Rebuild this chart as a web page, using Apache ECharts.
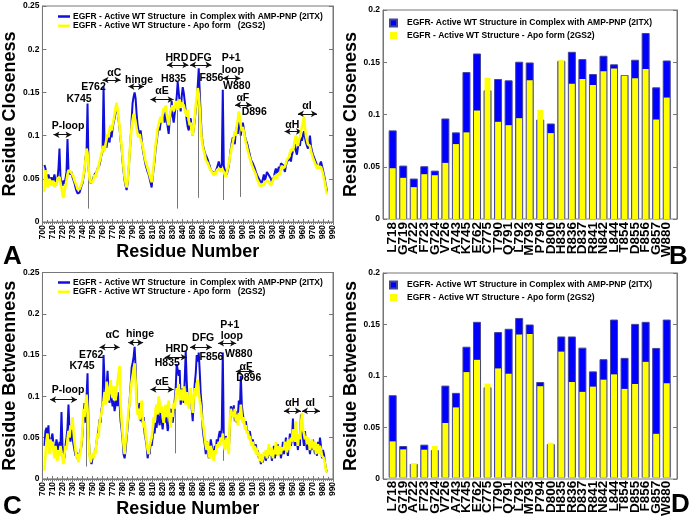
<!DOCTYPE html>
<html><head><meta charset="utf-8">
<script src="https://cdn.jsdelivr.net/npm/echarts@6/dist/echarts.min.js"></script>
<style>html,body{margin:0;padding:0;background:#fff}#c{width:695px;height:519px}</style>
</head><body><div id="c"></div>
<script>
// ---------- DATA ----------
const residueStart = 702; // first residue of line profiles (702..984)

// Panel A: Residue closeness, 2ITX (blue)
const closenessHolo = [
  0.066,0.062,0.052,0.048,0.055,0.050,0.046,0.052,               // 702-709
  0.045,0.050,0.055,0.048,0.044,0.050,0.062,0.085,0.052,0.045,   // 710
  0.042,0.048,0.044,0.050,0.058,0.096,0.060,0.062,0.055,0.058,   // 720
  0.052,0.050,0.045,0.040,0.036,0.033,0.032,0.034,0.038,0.042,   // 730
  0.045,0.052,0.060,0.075,0.080,0.137,0.062,0.050,0.045,0.046,   // 740
  0.048,0.052,0.055,0.054,0.058,0.062,0.060,0.066,0.072,0.078,   // 750
  0.082,0.157,0.088,0.092,0.086,0.095,0.100,0.092,0.104,0.098,   // 760
  0.108,0.115,0.120,0.128,0.132,0.126,0.118,0.108,0.095,0.085,   // 770
  0.070,0.058,0.048,0.042,0.037,0.045,0.060,0.078,0.095,0.118,   // 780
  0.138,0.145,0.150,0.143,0.125,0.112,0.105,0.100,0.106,0.096,   // 790
  0.085,0.078,0.072,0.066,0.062,0.058,0.055,0.050,0.045,0.040,   // 800
  0.052,0.062,0.072,0.085,0.094,0.102,0.110,0.106,0.115,0.120,   // 810
  0.118,0.125,0.115,0.128,0.120,0.110,0.102,0.118,0.125,0.140,   // 820
  0.122,0.115,0.125,0.135,0.145,0.162,0.150,0.138,0.128,0.145,   // 830
  0.156,0.150,0.140,0.128,0.118,0.110,0.106,0.115,0.120,0.108,   // 840
  0.100,0.108,0.118,0.130,0.140,0.158,0.178,0.150,0.122,0.100,   // 850
  0.090,0.085,0.080,0.078,0.075,0.072,0.068,0.065,0.060,0.062,   // 860
  0.058,0.060,0.056,0.055,0.062,0.066,0.070,0.065,0.062,0.066,   // 870
  0.153,0.065,0.060,0.058,0.055,0.060,0.065,0.075,0.085,0.092,   // 880
  0.098,0.100,0.090,0.105,0.110,0.102,0.120,0.115,0.100,0.110,   // 890
  0.115,0.108,0.100,0.095,0.092,0.088,0.082,0.078,0.072,0.070,   // 900
  0.068,0.065,0.062,0.058,0.055,0.052,0.050,0.048,0.046,0.045,   // 910
  0.050,0.055,0.048,0.052,0.058,0.060,0.054,0.056,0.050,0.046,   // 920
  0.048,0.052,0.058,0.062,0.056,0.060,0.064,0.058,0.068,0.070,   // 930
  0.066,0.062,0.058,0.065,0.070,0.068,0.072,0.075,0.070,0.078,   // 940
  0.080,0.085,0.090,0.082,0.078,0.086,0.092,0.088,0.098,0.094,   // 950
  0.100,0.105,0.098,0.092,0.088,0.085,0.090,0.100,0.088,0.082,   // 960
  0.078,0.075,0.072,0.070,0.066,0.068,0.064,0.066,0.070,0.065,   // 970
  0.060,0.055,0.048,0.042,0.035                                   // 980-984
];
// Panel A: Residue closeness, 2GS2 (yellow)
const closenessApo = [
  0.035,0.060,0.052,0.040,0.045,0.050,0.046,0.042,
  0.048,0.044,0.040,0.046,0.042,0.050,0.048,0.052,0.045,0.040,
  0.032,0.028,0.035,0.042,0.048,0.055,0.060,0.062,0.058,0.060,
  0.055,0.052,0.048,0.045,0.042,0.038,0.036,0.038,0.040,0.044,
  0.048,0.055,0.062,0.072,0.085,0.080,0.065,0.050,0.046,0.044,
  0.046,0.050,0.055,0.052,0.058,0.060,0.064,0.070,0.074,0.080,
  0.085,0.088,0.082,0.090,0.096,0.102,0.098,0.108,0.112,0.106,
  0.112,0.118,0.125,0.132,0.138,0.130,0.120,0.110,0.098,0.088,
  0.075,0.062,0.052,0.045,0.040,0.048,0.062,0.080,0.095,0.110,
  0.118,0.125,0.122,0.115,0.108,0.102,0.098,0.102,0.096,0.092,
  0.088,0.082,0.075,0.070,0.066,0.062,0.058,0.054,0.050,0.046,
  0.055,0.066,0.078,0.090,0.098,0.108,0.112,0.118,0.122,0.115,
  0.125,0.132,0.128,0.135,0.125,0.118,0.112,0.122,0.130,0.128,
  0.135,0.128,0.132,0.140,0.138,0.130,0.135,0.142,0.132,0.138,
  0.140,0.135,0.130,0.126,0.122,0.130,0.118,0.112,0.115,0.105,
  0.100,0.110,0.122,0.135,0.145,0.155,0.148,0.130,0.110,0.095,
  0.088,0.082,0.078,0.072,0.070,0.068,0.065,0.062,0.060,0.058,
  0.056,0.054,0.058,0.055,0.060,0.058,0.062,0.060,0.058,0.062,
  0.060,0.058,0.055,0.052,0.058,0.062,0.068,0.075,0.080,0.088,
  0.092,0.098,0.105,0.100,0.112,0.118,0.128,0.120,0.112,0.105,
  0.110,0.105,0.098,0.092,0.088,0.082,0.078,0.074,0.070,0.066,
  0.064,0.060,0.058,0.055,0.050,0.048,0.045,0.042,0.040,0.042,
  0.045,0.042,0.046,0.044,0.048,0.050,0.046,0.044,0.042,0.045,
  0.048,0.050,0.054,0.052,0.050,0.056,0.058,0.055,0.062,0.065,
  0.062,0.060,0.064,0.068,0.072,0.070,0.075,0.080,0.078,0.085,
  0.082,0.088,0.095,0.100,0.092,0.088,0.095,0.098,0.105,0.110,
  0.115,0.122,0.110,0.100,0.095,0.090,0.092,0.088,0.082,0.078,
  0.074,0.072,0.068,0.065,0.062,0.066,0.062,0.060,0.064,0.060,
  0.056,0.050,0.045,0.038,0.032
];
// Panel C: Residue betweenness, 2ITX (blue)
const betweennessHolo = [
  0.040,0.058,0.062,0.052,0.065,0.035,0.042,0.050,
  0.055,0.042,0.030,0.038,0.048,0.040,0.030,0.045,0.038,0.081,
  0.040,0.030,0.025,0.040,0.050,0.062,0.090,0.058,0.045,0.062,
  0.050,0.042,0.035,0.028,0.032,0.025,0.022,0.030,0.035,0.040,
  0.055,0.075,0.092,0.068,0.098,0.128,0.060,0.030,0.022,0.018,
  0.025,0.030,0.028,0.035,0.045,0.052,0.060,0.072,0.068,0.085,
  0.090,0.150,0.118,0.100,0.112,0.131,0.105,0.092,0.110,0.098,
  0.088,0.095,0.082,0.090,0.100,0.088,0.105,0.092,0.070,0.060,
  0.048,0.030,0.025,0.035,0.050,0.062,0.078,0.095,0.112,0.135,
  0.140,0.148,0.160,0.135,0.098,0.085,0.078,0.092,0.070,0.085,
  0.068,0.075,0.055,0.048,0.040,0.025,0.035,0.030,0.045,0.040,
  0.050,0.062,0.055,0.070,0.062,0.080,0.072,0.065,0.085,0.070,
  0.060,0.075,0.068,0.080,0.072,0.058,0.065,0.078,0.085,0.072,
  0.068,0.080,0.095,0.110,0.139,0.138,0.125,0.132,0.090,0.100,
  0.110,0.092,0.120,0.155,0.118,0.095,0.100,0.090,0.105,0.085,
  0.070,0.095,0.115,0.128,0.150,0.142,0.153,0.130,0.102,0.088,
  0.060,0.050,0.042,0.030,0.045,0.038,0.025,0.035,0.048,0.040,
  0.032,0.028,0.040,0.035,0.048,0.042,0.052,0.058,0.050,0.062,
  0.153,0.048,0.040,0.052,0.045,0.040,0.035,0.060,0.088,0.085,
  0.078,0.089,0.070,0.082,0.068,0.075,0.095,0.080,0.125,0.090,
  0.078,0.072,0.065,0.070,0.060,0.062,0.055,0.058,0.050,0.045,
  0.048,0.040,0.035,0.042,0.030,0.035,0.025,0.028,0.018,0.025,
  0.020,0.028,0.032,0.022,0.030,0.025,0.038,0.028,0.035,0.022,
  0.030,0.040,0.025,0.035,0.028,0.042,0.030,0.038,0.025,0.032,
  0.045,0.030,0.038,0.050,0.035,0.028,0.042,0.055,0.040,0.048,
  0.073,0.050,0.040,0.062,0.045,0.035,0.050,0.040,0.078,0.062,
  0.050,0.040,0.058,0.045,0.035,0.048,0.040,0.030,0.042,0.035,
  0.048,0.038,0.030,0.040,0.028,0.045,0.035,0.050,0.040,0.025,
  0.035,0.030,0.020,0.012,0.008
];
// Panel C: Residue betweenness, 2GS2 (yellow)
const betweennessApo = [
  0.010,0.030,0.045,0.055,0.040,0.030,0.048,0.038,
  0.045,0.035,0.025,0.040,0.030,0.022,0.035,0.028,0.040,0.032,
  0.025,0.018,0.030,0.040,0.035,0.048,0.058,0.050,0.065,0.060,
  0.075,0.058,0.045,0.035,0.025,0.030,0.020,0.028,0.032,0.045,
  0.060,0.085,0.075,0.090,0.102,0.085,0.050,0.028,0.020,0.025,
  0.030,0.025,0.035,0.030,0.045,0.055,0.050,0.068,0.075,0.080,
  0.088,0.095,0.105,0.090,0.118,0.102,0.095,0.110,0.120,0.105,
  0.098,0.112,0.100,0.095,0.110,0.118,0.128,0.137,0.090,0.070,
  0.055,0.040,0.030,0.045,0.055,0.070,0.085,0.092,0.105,0.118,
  0.125,0.132,0.140,0.118,0.090,0.078,0.085,0.072,0.080,0.095,
  0.075,0.062,0.070,0.052,0.045,0.035,0.030,0.040,0.038,0.050,
  0.060,0.075,0.068,0.085,0.090,0.078,0.100,0.092,0.080,0.088,
  0.075,0.068,0.082,0.090,0.075,0.085,0.095,0.070,0.062,0.080,
  0.075,0.092,0.085,0.098,0.110,0.102,0.115,0.095,0.108,0.100,
  0.095,0.112,0.100,0.090,0.105,0.098,0.085,0.100,0.110,0.092,
  0.080,0.098,0.110,0.100,0.115,0.120,0.105,0.095,0.088,0.075,
  0.070,0.060,0.050,0.040,0.035,0.045,0.030,0.025,0.040,0.035,
  0.028,0.022,0.035,0.030,0.042,0.038,0.045,0.040,0.050,0.045,
  0.055,0.042,0.035,0.045,0.050,0.038,0.030,0.070,0.085,0.080,
  0.082,0.075,0.085,0.070,0.078,0.065,0.080,0.072,0.090,0.075,
  0.068,0.075,0.060,0.065,0.055,0.058,0.048,0.052,0.045,0.040,
  0.045,0.035,0.040,0.030,0.038,0.028,0.032,0.022,0.030,0.020,
  0.025,0.032,0.028,0.035,0.025,0.030,0.042,0.032,0.028,0.038,
  0.025,0.035,0.030,0.045,0.032,0.028,0.040,0.035,0.030,0.038,
  0.040,0.035,0.045,0.038,0.032,0.048,0.035,0.042,0.050,0.045,
  0.060,0.055,0.045,0.070,0.050,0.040,0.055,0.048,0.065,0.080,
  0.060,0.055,0.048,0.052,0.042,0.050,0.045,0.035,0.040,0.048,
  0.040,0.035,0.045,0.030,0.038,0.042,0.030,0.040,0.035,0.028,
  0.030,0.025,0.018,0.010,0.008
];
// thin vertical drop lines [residue, bottom value]
const closenessDrops = [[746,0.0155],[835,0.0155],[856,0.028],[880,0.0255],[897,0.029]];
const betweennessDrops = [[744,0.015],[833,0.031],[880,0.022]];

// annotations [label, residue, value]
const closenessLabels = [
  ['P-loop',725.6,0.1105],['K745',736.5,0.1417],['E762',751,0.156],['\u03b1C',771.7,0.1725],
  ['hinge',796.4,0.1644],['\u03b1E',819.4,0.1513],['HRD',834.2,0.19],['H835',830.9,0.1656],
  ['DFG',857.8,0.19],['F856',868.7,0.1667],['P+1',888.4,0.19],['loop',890,0.1756],
  ['W880',894,0.157],['\u03b1F',900,0.143],['D896',911.4,0.127],['\u03b1H',949.3,0.1125],['\u03b1I',964,0.1336]
];
// arrows [from residue, to residue, value]
const closenessArrows = [
  [711,729,0.101],[760,778,0.1644],[785.8,801.3,0.1567],[807.8,830.9,0.1417],[824.3,845.7,0.1818],
  [847.3,868.7,0.1818],[880.2,897.6,0.1663],[892.3,908.8,0.1355],[941.7,959,0.1047],[955,974,0.1252]
];
const betweennessLabels = [
  ['P-loop',725.6,0.1072],['K745',739.5,0.1367],['E762',748.6,0.1505],['\u03b1C',770,0.174],
  ['hinge',797.4,0.1753],['\u03b1E',819.4,0.117],['HRD',834.2,0.157],['H835',824.6,0.1407],
  ['DFG',860.4,0.171],['F856',868.7,0.1474],['P+1',887,0.1868],['loop',889,0.173],
  ['W880',896,0.1513],['\u03b1F',903.2,0.1356],['D896',905.9,0.1217],['\u03b1H',949.3,0.0922],['\u03b1I',967.3,0.0922]
];
const betweennessArrows = [
  [707.6,734.5,0.096],[757,777,0.1596],[785.6,800.5,0.165],[807.8,830.9,0.1084],[822,844,0.1474],
  [847.3,869,0.1596],[875.3,893.3,0.1643],[893,911,0.13],[941,958,0.0824],[959,977,0.0824]
];

// Bar panels
const residueCats = ['L718','G719','A722','F723','G724','V726','A743','K745','E762','C775','T790','Q791','L792','M793','P794','D800','H835','R836','D837','R841','N842','L844','T854','D855','F856','G857','W880'];
const barClosenessHolo = [0.0848,0.0511,0.0387,0.0505,0.0463,0.0962,0.0829,0.1406,0.1584,0.1232,0.134,0.1327,0.1505,0.1498,0.0952,0.0914,0.1514,0.160,0.153,0.1387,0.1562,0.148,0.1378,0.1524,0.178,0.126,0.1517];
const barClosenessApo  = [0.0486,0.0394,0.0305,0.0429,0.0419,0.0537,0.0717,0.0829,0.1038,0.1352,0.093,0.0898,0.0965,0.1327,0.1044,0.0822,0.152,0.1295,0.134,0.1283,0.1413,0.1441,0.137,0.1346,0.1435,0.0952,0.1162];
const barBetweennessHolo = [0.0806,0.031,0.0135,0.0323,0.0271,0.09,0.0829,0.128,0.1523,0.0884,0.1423,0.1455,0.1561,0.1497,0.0935,0.0329,0.138,0.138,0.1271,0.1039,0.1158,0.1545,0.1171,0.1503,0.1523,0.1268,0.1545];
const barBetweennessApo  = [0.0355,0.0277,0.014,0.0274,0.031,0.0535,0.0687,0.1032,0.1152,0.092,0.1068,0.1016,0.14,0.1403,0.0894,0.0342,0.1232,0.0935,0.0839,0.089,0.0958,0.101,0.0868,0.0916,0.1132,0.0429,0.0923];

// ---------- CHART ----------
const FONT = "'Liberation Sans', Arial, sans-serif";
const lineHoloName = 'EGFR - Active WT Structure  in Complex with AMP-PNP (2ITX)';
const lineApoName  = 'EGFR - Active WT Structure - Apo form   (2GS2)';
const barHoloName  = 'EGFR- Active WT Structure in Complex with AMP-PNP (2ITX)';
const barApoName   = 'EGFR - Active WT Structure - Apo form (2GS2)';
const BLUE = '#1010d8', YELLOW = '#ffff00', BARBLUE = '#0000ff';
const fmt = v => String(Math.round(v * 100) / 100);
const toXY = arr => arr.map((v, i) => [residueStart + i, v]);

const chart = echarts.init(document.getElementById('c'), null, {renderer: 'canvas'});

function lineXAxes(grid, name) {
  return [
    {gridIndex: grid, type: 'value', min: 700, max: 990, interval: 10, position: 'bottom',
     name: name, nameLocation: 'middle', nameGap: 17,
     nameTextStyle: {fontSize: 18, fontWeight: 'bold', fontFamily: FONT, color: '#000'},
     axisLine: {lineStyle: {color: '#777'}}, axisTick: {inside: true, length: 3, lineStyle: {color: '#777'}},
     minorTick: {show: true, splitNumber: 2, length: 2, lineStyle: {color: '#777'}},
     splitLine: {show: false},
     axisLabel: {rotate: 90, fontSize: 8.5, fontWeight: 'bold', fontFamily: FONT, color: '#000', margin: 3}},
    {gridIndex: grid, type: 'value', min: 700, max: 990, interval: 10, position: 'top',
     axisLine: {lineStyle: {color: '#777'}}, axisTick: {inside: true, length: 3, lineStyle: {color: '#777'}},
     minorTick: {show: true, splitNumber: 5, length: 2, lineStyle: {color: '#777'}},
     splitLine: {show: false}, axisLabel: {show: false}}
  ];
}
function frameYAxes(grid, name, max) {
  return [
    {gridIndex: grid, type: 'value', min: 0, max: max, interval: 0.05, position: 'left',
     name: name, nameLocation: 'middle', nameGap: 18,
     nameTextStyle: {fontSize: 18, fontWeight: 'bold', fontFamily: FONT, color: '#000'},
     axisLine: {show: true, lineStyle: {color: '#777'}}, axisTick: {show: true, inside: true, length: 4, lineStyle: {color: '#777'}},
     splitLine: {show: false},
     axisLabel: {formatter: fmt, fontSize: 8.5, fontWeight: 'bold', fontFamily: FONT, color: '#000', margin: 3}},
    {gridIndex: grid, type: 'value', min: 0, max: max, interval: 0.05, position: 'right',
     axisLine: {show: true, lineStyle: {color: '#777'}}, axisTick: {show: true, inside: true, length: 4, lineStyle: {color: '#777'}},
     splitLine: {show: false}, axisLabel: {show: false}}
  ];
}
function catAxes(grid) {
  return [
    {gridIndex: grid, type: 'category', data: residueCats, position: 'bottom',
     axisLine: {show: false}, axisTick: {show: false},
     axisLabel: {interval: 0, rotate: 90, fontSize: 13.5, fontWeight: 'bold', fontFamily: FONT, color: '#000', margin: 3}},
    {gridIndex: grid, type: 'category', data: residueCats, show: false}
  ];
}
function annotSeries(xi, yi, labels, arrows) {
  return {
    type: 'scatter', xAxisIndex: xi, yAxisIndex: yi, symbolSize: 1, silent: true,
    itemStyle: {color: 'rgba(0,0,0,0)', opacity: 1}, z: 10,
    data: labels.map(a => ({name: a[0], value: [a[1], a[2]]})),
    label: {show: true, position: 'inside', formatter: '{b}', fontSize: 10.5, fontWeight: 'bold', fontFamily: FONT, color: '#000', opacity: 1},
    markLine: {silent: true, symbol: ['arrow', 'arrow'], symbolSize: [5, 6], animation: false,
      lineStyle: {color: '#111', width: 1, type: 'solid', opacity: 1}, label: {show: false}, emphasis: {disabled: true},
      data: arrows.map(a => [{coord: [a[0], a[2]]}, {coord: [a[1], a[2]]}])}
  };
}
function dropSeries(xi, yi, drops, ref) {
  return {
    type: 'scatter', xAxisIndex: xi, yAxisIndex: yi, symbolSize: 0, silent: true, data: [], z: 3,
    markLine: {silent: true, symbol: ['none', 'none'], animation: false,
      lineStyle: {color: '#666', width: 0.9, type: 'solid', opacity: 1}, label: {show: false}, emphasis: {disabled: true},
      data: drops.map(d => [{coord: [d[0], ref[d[0] - residueStart]]}, {coord: [d[0], d[1]]}])}
  };
}
const lineLegend = top => ({
  data: [{name: lineHoloName, icon: 'rect', itemStyle: {color: BLUE}}, {name: lineApoName, icon: 'rect', itemStyle: {color: YELLOW}}],
  left: 58, top: top, orient: 'vertical', padding: 0,
  itemWidth: 12, itemHeight: 2.5, itemGap: 0.3, selectedMode: false,
  textStyle: {fontSize: 8.5, fontWeight: 'bold', fontFamily: FONT, color: '#000', lineHeight: 8, padding: [0, 0, 0, -2]}
});
const barLegend = top => ({
  data: [barHoloName, barApoName], left: 389, top: top, orient: 'vertical', padding: 0,
  icon: 'rect', itemWidth: 7, itemHeight: 7, itemGap: 3.5, selectedMode: false,
  textStyle: {fontSize: 8.5, fontWeight: 'bold', fontFamily: FONT, color: '#000', lineHeight: 8, padding: [0, 0, 0, 5]}
});

const option = {
  animation: false,
  backgroundColor: '#fff',
  grid: [
    {left: 39, top: 6, width: 294, height: 216, show: true, borderColor: '#777', borderWidth: 1},       // 0 A
    {left: 39, top: 272.5, width: 294, height: 211.5, show: true, borderColor: '#777', borderWidth: 1}, // 1 C
    {left: 383, top: 10, width: 294, height: 209, show: true, borderColor: '#777', borderWidth: 1},     // 2 B frame
    {left: 387.4, top: 10, width: 284.6, height: 209},                                                   // 3 B bars
    {left: 383, top: 273, width: 294, height: 206, show: true, borderColor: '#777', borderWidth: 1},    // 4 D frame
    {left: 387.4, top: 273, width: 284.6, height: 206}                                                   // 5 D bars
  ],
  xAxis: [
    ...lineXAxes(0, 'Residue Number'),                        // 0,1
    ...lineXAxes(1, 'Residue Number'),                        // 2,3
    {gridIndex: 2, type: 'value', min: 0, max: 1, show: false}, // 4
    ...catAxes(3),                                            // 5,6
    {gridIndex: 4, type: 'value', min: 0, max: 1, show: false}, // 7
    ...catAxes(5)                                             // 8,9
  ],
  yAxis: [
    ...frameYAxes(0, 'Residue Closeness', 0.25),              // 0,1
    ...frameYAxes(1, 'Residue Betweenness', 0.25),            // 2,3
    ...frameYAxes(2, 'Residue Closeness', 0.2),               // 4,5
    {gridIndex: 3, type: 'value', min: 0, max: 0.2, show: false}, // 6
    ...frameYAxes(4, 'Residue Betweenness', 0.2),             // 7,8
    {gridIndex: 5, type: 'value', min: 0, max: 0.2, show: false}  // 9
  ],
  legend: [lineLegend(12), lineLegend(278), barLegend(18.5), barLegend(280.5)],
  series: [
    {name: lineHoloName, type: 'line', xAxisIndex: 0, yAxisIndex: 0, data: toXY(closenessHolo),
     symbol: 'none', lineStyle: {color: BLUE, width: 2}, itemStyle: {color: BLUE}, z: 4},
    {name: lineApoName, type: 'line', xAxisIndex: 0, yAxisIndex: 0, data: toXY(closenessApo),
     symbol: 'none', lineStyle: {color: YELLOW, width: 2.6}, itemStyle: {color: YELLOW}, z: 5},
    dropSeries(0, 0, closenessDrops, closenessApo),
    annotSeries(0, 0, closenessLabels, closenessArrows),

    {name: lineHoloName, type: 'line', xAxisIndex: 2, yAxisIndex: 2, data: toXY(betweennessHolo),
     symbol: 'none', lineStyle: {color: BLUE, width: 2}, itemStyle: {color: BLUE}, z: 4},
    {name: lineApoName, type: 'line', xAxisIndex: 2, yAxisIndex: 2, data: toXY(betweennessApo),
     symbol: 'none', lineStyle: {color: YELLOW, width: 2.6}, itemStyle: {color: YELLOW}, z: 5},
    dropSeries(2, 2, betweennessDrops, betweennessApo),
    annotSeries(2, 2, betweennessLabels, betweennessArrows),

    {name: barHoloName, type: 'bar', xAxisIndex: 5, yAxisIndex: 6, data: barClosenessHolo, barWidth: 8,
     itemStyle: {color: BARBLUE, borderColor: '#44449a', borderWidth: 1}, z: 2},
    {name: barApoName, type: 'bar', xAxisIndex: 6, yAxisIndex: 6, data: barClosenessApo, barWidth: 6,
     itemStyle: {color: YELLOW}, z: 3},
    {name: barHoloName, type: 'bar', xAxisIndex: 8, yAxisIndex: 9, data: barBetweennessHolo, barWidth: 8,
     itemStyle: {color: BARBLUE, borderColor: '#44449a', borderWidth: 1}, z: 2},
    {name: barApoName, type: 'bar', xAxisIndex: 9, yAxisIndex: 9, data: barBetweennessApo, barWidth: 6,
     itemStyle: {color: YELLOW}, z: 3}
  ],
  graphic: [
    {type: 'text', left: 3, top: 244, style: {text: 'A', font: 'bold 26px ' + FONT, fill: '#000'}},
    {type: 'text', left: 669, top: 244, style: {text: 'B', font: 'bold 26px ' + FONT, fill: '#000'}},
    {type: 'text', left: 3, top: 494, style: {text: 'C', font: 'bold 26px ' + FONT, fill: '#000'}},
    {type: 'text', left: 671, top: 492, style: {text: 'D', font: 'bold 26px ' + FONT, fill: '#000'}}
  ]
};
chart.setOption(option);
</script>
</body></html>
